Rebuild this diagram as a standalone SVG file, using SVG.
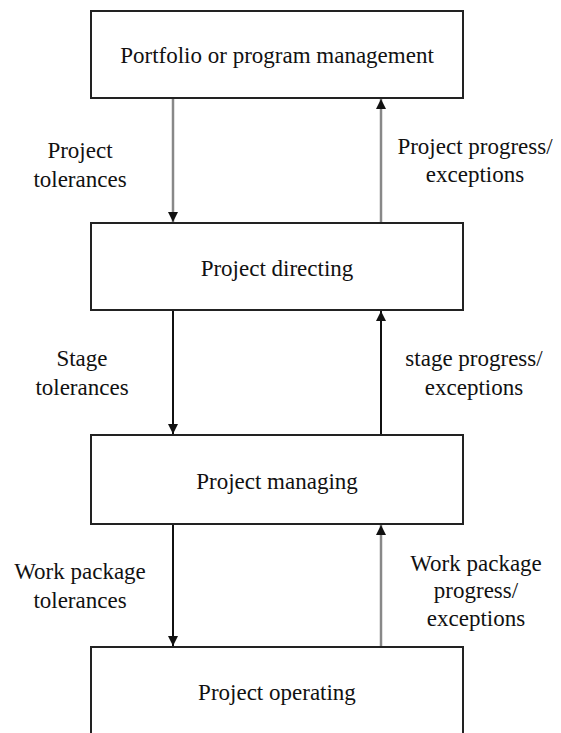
<svg xmlns="http://www.w3.org/2000/svg" width="561" height="733" viewBox="0 0 561 733">
<style>
text{font-family:"Liberation Serif","Times New Roman",serif;font-size:23px;fill:#111;text-anchor:middle}
.box{fill:#fff;stroke:#222;stroke-width:2}
.blk{stroke:#111;stroke-width:2;fill:none}
.gry{stroke:#888;stroke-width:2.5;fill:none}
</style>
<defs>
<marker id="ah" viewBox="0 0 10 10" refX="10" refY="5" markerWidth="10" markerHeight="10" markerUnits="userSpaceOnUse" orient="auto"><path d="M0,0 L10,5 L0,10 z" fill="#111"/></marker>
</defs>
<rect width="561" height="733" fill="#fff"/>
<g id="connectors">
<line class="gry" x1="173" y1="99" x2="173" y2="222" marker-end="url(#ah)"/>
<line class="gry" x1="381" y1="222" x2="381" y2="99" marker-end="url(#ah)"/>
<line class="blk" x1="173" y1="311" x2="173" y2="434" marker-end="url(#ah)"/>
<line class="blk" x1="381" y1="434" x2="381" y2="311" marker-end="url(#ah)"/>
<line class="blk" x1="173" y1="525" x2="173" y2="646" marker-end="url(#ah)"/>
<line class="gry" x1="381" y1="646" x2="381" y2="525" marker-end="url(#ah)"/>
<text x="80" y="158">Project</text>
<text x="80" y="187">tolerances</text>
<text x="475" y="154">Project progress/</text>
<text x="475" y="182">exceptions</text>
<text x="82" y="366">Stage</text>
<text x="82" y="395">tolerances</text>
<text x="474" y="366">stage progress/</text>
<text x="474" y="395">exceptions</text>
<text x="80" y="579">Work package</text>
<text x="80" y="608">tolerances</text>
<text x="476" y="571">Work package</text>
<text x="476" y="598">progress/</text>
<text x="476" y="626">exceptions</text>
</g>
<g id="n1"><rect class="box" x="91" y="11" width="372" height="87"/><text x="277" y="63">Portfolio or program management</text></g>
<g id="n2"><rect class="box" x="91" y="223" width="372" height="87"/><text x="277" y="276">Project directing</text></g>
<g id="n3"><rect class="box" x="91" y="435" width="372" height="89"/><text x="277" y="489">Project managing</text></g>
<g id="n4"><rect class="box" x="91" y="647" width="372" height="100"/><text x="277" y="700">Project operating</text></g>
</svg>
